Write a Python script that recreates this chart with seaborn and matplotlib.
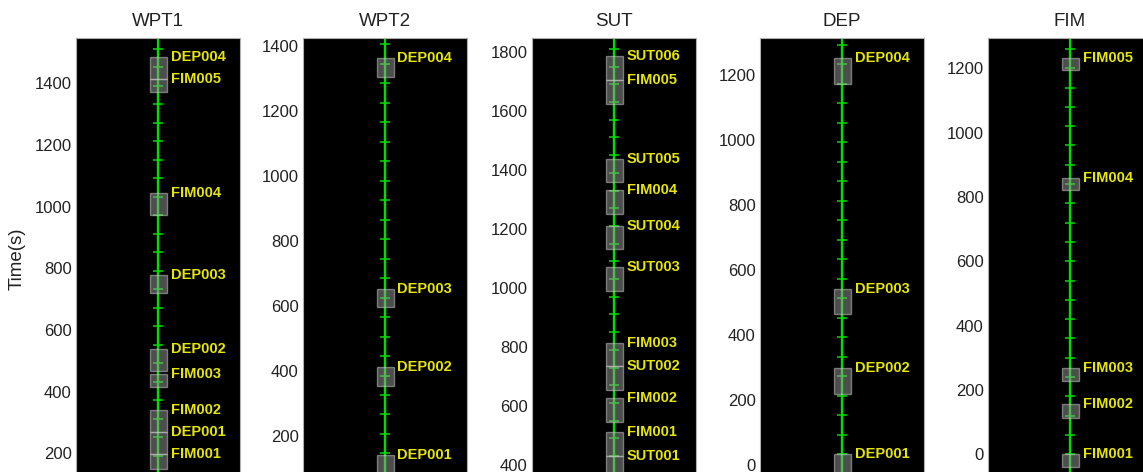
import numpy as np
import matplotlib
matplotlib.use("Agg")
import matplotlib.pyplot as plt
import seaborn as sns

# === Data ===
panel_names = ["WPT1", "WPT2", "SUT", "DEP", "FIM"]

wpt1_labels = ["DEP004", "FIM005", "FIM004", "DEP003", "DEP002", "FIM003", "FIM002", "DEP001", "FIM001"]
wpt1_start = [1415, 1372, 973, 720, 466, 416, 270, 197, 151]
wpt1_end = [1484, 1415, 1046, 778, 538, 459, 340, 270, 197]

wpt2_labels = ["DEP004", "DEP003", "DEP002", "DEP001"]
wpt2_start = [1306, 595, 352, 83]
wpt2_end = [1362, 652, 411, 141]

sut_labels = ["SUT006", "FIM005", "SUT005", "FIM004", "SUT004", "SUT003",
              "FIM003", "SUT002", "FIM002", "FIM001", "SUT001"]
sut_start = [1705, 1624, 1359, 1252, 1134, 990, 735, 656, 547, 431, 350]
sut_end = [1787, 1705, 1439, 1332, 1212, 1072, 816, 735, 629, 512, 431]

dep_labels = ["DEP004", "DEP003", "DEP002", "DEP001"]
dep_start = [1172, 464, 220, -46]
dep_end = [1251, 543, 300, 33]

fim_labels = ["FIM005", "FIM004", "FIM003", "FIM002", "FIM001"]
fim_start = [1193, 820, 229, 112, -40]
fim_end = [1233, 860, 269, 156, 1]

# visible time range per panel and y tick labels
y_top = [1547, 1425, 1848, 1314, 1294]
y_bottom = [114, 63, 350, -46, -80]
y_ticks = [[200, 400, 600, 800, 1000, 1200, 1400],
           [200, 400, 600, 800, 1000, 1200, 1400],
           [400, 600, 800, 1000, 1200, 1400, 1600, 1800],
           [0, 200, 400, 600, 800, 1000, 1200],
           [0, 200, 400, 600, 800, 1000, 1200]]

# minute marks on the timeline (first mark near the top, every 60 s)
mark_first = [1512, 1405, 1811, 1293, 1260]
mark_step = 60

events = [
    (wpt1_labels, wpt1_start, wpt1_end),
    (wpt2_labels, wpt2_start, wpt2_end),
    (sut_labels, sut_start, sut_end),
    (dep_labels, dep_start, dep_end),
    (fim_labels, fim_start, fim_end),
]

# === Style ===
sns.set_theme(style="white")
plt.rcParams["font.family"] = ["Liberation Sans", "DejaVu Sans"]

green = "#00dd00"
yellow = "#e6e600"

W, H = 1143, 472
fig = plt.figure(figsize=(W / 100, H / 100), dpi=100)

lefts_px = [76, 303, 532, 760, 988]
width_px = 164
top_px, bottom_px = 38, 480

box_w = 17 / width_px * 2
label_x = box_w / 2 + 4 / width_px * 2

for i, name in enumerate(panel_names):
    ax = fig.add_axes([lefts_px[i] / W, (H - bottom_px) / H,
                       width_px / W, (bottom_px - top_px) / H])
    ax.set_facecolor("black")
    ax.set_xlim(-1, 1)
    ax.set_ylim(y_bottom[i], y_top[i])

    # timeline
    ax.axvline(0, color=green, lw=1.6, zorder=1)
    marks = np.arange(mark_first[i], y_bottom[i] - mark_step, -mark_step)
    sns.lineplot(x=np.zeros(len(marks)), y=marks, orient="y", estimator=None,
                 sort=False, color=green, lw=1.6, marker="_", markersize=7,
                 markeredgewidth=1.1, markeredgecolor=green, ax=ax, zorder=2)

    # event boxes and labels
    labels, start, end = events[i]
    heights = [e - s for s, e in zip(start, end)]
    ax.bar([0] * len(start), heights, bottom=start, width=box_w,
           color="#9a9a9a", alpha=0.5, edgecolor="#d0d0d0", linewidth=1.0, zorder=3)
    for lab, e in zip(labels, end):
        ax.text(label_x, e, lab, color=yellow, fontsize=10.5, fontweight="bold",
                ha="left", va="center", zorder=4, clip_on=False)

    ax.set_title(name, fontsize=13.5, color="#222222", pad=9)
    ax.set_xticks([])
    ax.set_yticks(y_ticks[i])
    ax.tick_params(axis="y", length=0, pad=3, labelsize=12, labelcolor="#222222")
    ax.set_xlabel("")
    ax.set_ylabel("")
    for sp in ax.spines.values():
        sp.set_color("#b0b0b0")
        sp.set_linewidth(0.8)

fig.text(17 / W, 1 - 259 / H, "Time(s)", rotation=90, ha="center", va="center",
         fontsize=13.5, color="#222222")

fig.savefig("out.png", dpi=100)
